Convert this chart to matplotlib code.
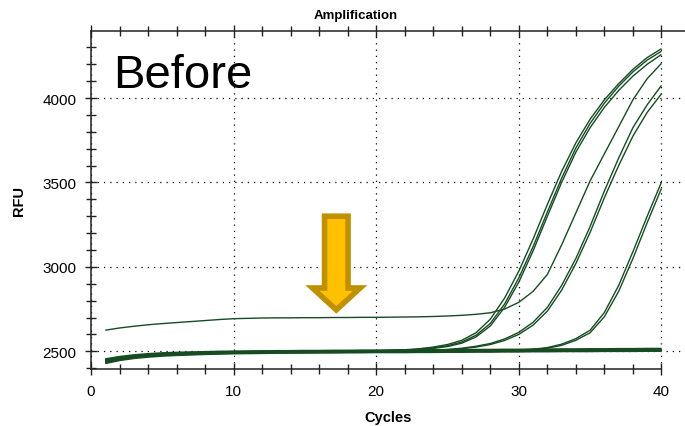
import matplotlib
matplotlib.use('Agg')
import matplotlib.pyplot as plt
from matplotlib.ticker import MultipleLocator
from matplotlib.patches import FancyArrow

plt.rcParams['font.family'] = ['Liberation Sans', 'DejaVu Sans']

cycles = list(range(1, 41))

# early cycles shared by the rising wells
base_a = [2440, 2457, 2468, 2476, 2481, 2485, 2488, 2490, 2492, 2493,
          2494, 2495, 2496, 2496, 2497, 2497, 2498, 2498, 2499, 2499]
base_b = [2450, 2464, 2474, 2481, 2486, 2489, 2491, 2493, 2495, 2496,
          2497, 2498, 2499, 2499, 2500, 2500, 2501, 2501, 2502, 2502]
base_c = [2432, 2450, 2462, 2470, 2476, 2480, 2483, 2486, 2488, 2490,
          2491, 2492, 2493, 2494, 2494, 2495, 2495, 2496, 2496, 2497]

well_a1 = base_b + [2505, 2509, 2515, 2525, 2540, 2565, 2610, 2690, 2815, 2975,
                    3165, 3370, 3565, 3735, 3875, 3990, 4085, 4170, 4240, 4292]
well_a2 = base_a + [2504, 2507, 2512, 2520, 2533, 2555, 2595, 2665, 2780, 2935,
                    3120, 3325, 3525, 3705, 3850, 3970, 4070, 4155, 4225, 4277]
well_a3 = base_c + [2503, 2506, 2510, 2517, 2528, 2548, 2585, 2650, 2760, 2910,
                    3095, 3300, 3500, 3680, 3825, 3945, 4045, 4130, 4200, 4258]
well_b1 = base_a + [2500, 2501, 2503, 2506, 2510, 2518, 2530, 2546, 2573, 2612,
                    2672, 2760, 2890, 3050, 3240, 3450, 3645, 3825, 3960, 4075]
well_b2 = base_b + [2503, 2504, 2505, 2507, 2510, 2515, 2525, 2540, 2564, 2600,
                    2655, 2738, 2862, 3020, 3205, 3410, 3600, 3775, 3915, 4025]
well_c1 = base_c + [2497, 2498, 2498, 2499, 2500, 2500, 2501, 2502, 2504, 2507,
                    2512, 2522, 2542, 2575, 2625, 2730, 2890, 3090, 3300, 3502]
well_c2 = base_a + [2500, 2500, 2501, 2501, 2502, 2503, 2504, 2505, 2506, 2508,
                    2510, 2518, 2535, 2565, 2610, 2705, 2855, 3050, 3262, 3465]
well_high = [2625, 2638, 2648, 2657, 2664, 2670, 2676, 2682, 2688, 2693,
             2695, 2697, 2698, 2698, 2699, 2699, 2700, 2700, 2701, 2701,
             2702, 2703, 2704, 2706, 2709, 2713, 2719, 2728, 2750, 2790,
             2855, 2955, 3130, 3320, 3510, 3670, 3830, 3990, 4115, 4205]
# wells that never come up
flat_1 = base_a + [2500, 2500, 2501, 2501, 2502, 2502, 2503, 2503, 2504, 2504,
                   2505, 2505, 2506, 2506, 2507, 2507, 2508, 2508, 2509, 2509]
flat_2 = base_b + [2503, 2503, 2504, 2504, 2505, 2505, 2506, 2506, 2507, 2507,
                   2508, 2508, 2509, 2509, 2510, 2510, 2511, 2511, 2512, 2512]
flat_3 = base_c + [2497, 2497, 2498, 2498, 2499, 2499, 2500, 2500, 2501, 2501,
                   2502, 2502, 2503, 2503, 2503, 2504, 2504, 2504, 2505, 2505]

wells = [flat_1, flat_2, flat_3, well_c1, well_c2, well_b1, well_b2,
         well_a1, well_a2, well_a3, well_high]

green = '#174b22'

fig = plt.figure(figsize=(6.85, 4.27), dpi=100)
ax = fig.add_axes([91 / 685, 57 / 427, 594 / 685, 338 / 427])

for w in wells:
    lw = 2.2 if w in (flat_1, flat_2, flat_3) else 1.0
    ax.plot(cycles, w, color=green, lw=lw, solid_capstyle='butt')

ax.set_xlim(0, 41.65)
ax.set_ylim(2395, 4397)
ax.xaxis.set_major_locator(MultipleLocator(10))
ax.xaxis.set_minor_locator(MultipleLocator(2))
ax.yaxis.set_major_locator(MultipleLocator(500))
ax.yaxis.set_minor_locator(MultipleLocator(100))
ax.grid(True, which='major', color='black', linestyle=(0, (1, 4)), lw=0.9)

ax.spines['right'].set_visible(False)
ax.spines['bottom'].set_bounds(0, 40)
for s in ('left', 'bottom', 'top'):
    ax.spines[s].set_linewidth(1.1)
    ax.spines[s].set_color('#222222')

ax.tick_params(which='both', direction='inout', top=True, right=False,
               color='#222222', width=1.0)
ax.tick_params(which='major', length=9, labelsize=11, pad=6)
ax.tick_params(which='minor', length=7)
ax.tick_params(axis='x', which='both', top=True, labeltop=False)

ax.set_xlabel('Cycles', fontsize=10.5, fontweight='bold', labelpad=9)
ax.set_ylabel('RFU', fontsize=10.5, fontweight='bold', labelpad=12)
fig.text(356 / 685, 1 - 16 / 427, 'Amplification', fontsize=9.5,
         fontweight='bold', ha='center', va='center')

# big annotation text, placed in figure inches from the top-left
fig.text(113 / 685, 1 - 88 / 427, 'Before', fontsize=34,
         ha='left', va='baseline')

arrow = FancyArrow(17.2, 3300, 0, -555, width=1.65, head_width=3.35,
                   head_length=130, length_includes_head=True,
                   facecolor='#ffc000', edgecolor='#bf9000', lw=4, zorder=5,
                   joinstyle='miter')
ax.add_patch(arrow)

fig.savefig('out.png', dpi=100)
